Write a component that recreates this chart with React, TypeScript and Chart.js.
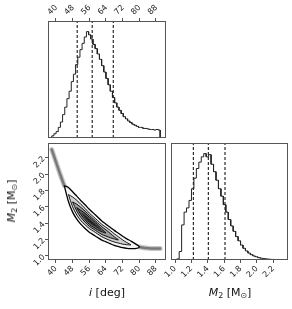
import React, { useEffect, useRef } from "react";
import { Chart, registerables } from "chart.js";
Chart.register(...registerables);

// ---- axis ranges & ticks ----
const I_MIN = 36.2;
const I_MAX = 92.8;
const M_MIN = 0.95;
const M_MAX = 2.38;
const H_MAX = 1.1;
const iTicks = [40, 48, 56, 64, 72, 80, 88];
const mTicks = [1.0, 1.2, 1.4, 1.6, 1.8, 2.0, 2.2];

// ---- 1D histogram of i [deg] (normalised counts) ----
const iBinStart = 38.0;
const iBinWidth = 1.04;
const iHist = [
  0.02, 0.04, 0.06, 0.1, 0.15, 0.22, 0.29, 0.37, 0.44, 0.53,
  0.6, 0.69, 0.76, 0.83, 0.89, 0.95, 1.0, 0.97, 0.93, 0.88,
  0.84, 0.79, 0.74, 0.68, 0.62, 0.56, 0.5, 0.44, 0.38, 0.33,
  0.29, 0.26, 0.23, 0.2, 0.18, 0.16, 0.145, 0.13, 0.12, 0.11,
  0.1, 0.1, 0.09, 0.09, 0.085, 0.08, 0.08, 0.075, 0.08, 0.075,
];
const iQuantiles = [50.2, 57.4, 67.5];

// ---- 1D histogram of M2 [Msun] ----
const mBinStart = 1.02;
const mBinWidth = 0.03;
const mHist = [
  0.01, 0.08, 0.33, 0.45, 0.49, 0.56, 0.67, 0.77, 0.86, 0.92,
  0.97, 1.0, 0.97, 0.99, 0.9, 0.83, 0.75, 0.67, 0.6, 0.52,
  0.45, 0.38, 0.32, 0.27, 0.22, 0.18, 0.14, 0.11, 0.085, 0.065,
  0.05, 0.038, 0.03, 0.022, 0.017, 0.013, 0.01, 0.008, 0.006, 0.005,
  0.004, 0.003, 0.002, 0.001,
];
const mQuantiles = [1.223, 1.406, 1.61];

// ---- 2D density: ridge of the banana and contour half-widths (M units) ----
const ridgeI = [38, 40, 42, 44, 46, 48, 50, 52, 54, 56, 58, 60, 62, 64, 66, 68, 70, 72, 74, 76, 78, 80, 82, 84, 86, 88, 90];
const ridgeM = [2.3, 2.15, 2.0, 1.86, 1.75, 1.66, 1.59, 1.53, 1.48, 1.43, 1.39, 1.35, 1.31, 1.28, 1.25, 1.22, 1.195, 1.17, 1.15, 1.135, 1.12, 1.11, 1.1, 1.095, 1.09, 1.09, 1.09];
const hwLevel1 = [0, 0, 0, 0, 0.085, 0.125, 0.14, 0.145, 0.145, 0.14, 0.133, 0.125, 0.117, 0.108, 0.1, 0.092, 0.082, 0.07, 0.058, 0.046, 0.03, 0, 0, 0, 0, 0, 0];
const hwLevel2 = [0, 0, 0, 0, 0, 0.06, 0.09, 0.1, 0.1, 0.095, 0.088, 0.082, 0.076, 0.07, 0.062, 0.05, 0.038, 0.026, 0.013, 0, 0, 0, 0, 0, 0, 0, 0];
const hwLevel3 = [0, 0, 0, 0, 0, 0, 0.042, 0.062, 0.068, 0.068, 0.062, 0.055, 0.048, 0.038, 0.027, 0.013, 0, 0, 0, 0, 0, 0, 0, 0, 0, 0, 0];
const hwLevel4 = [0, 0, 0, 0, 0, 0, 0, 0.026, 0.04, 0.044, 0.04, 0.03, 0.015, 0, 0, 0, 0, 0, 0, 0, 0, 0, 0, 0, 0, 0, 0];
const hwLevel5 = [0, 0, 0, 0, 0, 0, 0, 0, 0.016, 0.022, 0.018, 0.008, 0, 0, 0, 0, 0, 0, 0, 0, 0, 0, 0, 0, 0, 0, 0];
const tailLeft = [38, 44];
const tailRight = [78, 90];

// ---- helpers ----
function stairs(start: number, width: number, vals: number[]) {
  const pts: { x: number; y: number }[] = [{ x: start, y: 0 }];
  vals.forEach((v, k) => {
    pts.push({ x: start + k * width, y: v });
    pts.push({ x: start + (k + 1) * width, y: v });
  });
  pts.push({ x: start + vals.length * width, y: 0 });
  return pts;
}

function contour(hw: number[]) {
  const n = hw.length;
  let first = -1;
  let last = -1;
  hw.forEach((h, k) => {
    if (h > 0) {
      if (first < 0) first = k;
      last = k;
    }
  });
  const a = Math.max(0, first - 1);
  const b = Math.min(n - 1, last + 1);
  const pts: { x: number; y: number }[] = [];
  for (let k = a; k <= b; k++) pts.push({ x: ridgeI[k], y: ridgeM[k] + hw[k] });
  for (let k = b - 1; k > a; k--) pts.push({ x: ridgeI[k], y: ridgeM[k] - hw[k] });
  pts.push({ ...pts[0] });
  return pts;
}

function ridgePart(range: number[]) {
  const pts: { x: number; y: number }[] = [];
  ridgeI.forEach((x, k) => {
    if (x >= range[0] && x <= range[1]) pts.push({ x, y: ridgeM[k] });
  });
  return pts;
}

function vline(x: number, yMax: number) {
  return [
    { x, y: 0 },
    { x, y: yMax },
  ];
}

const tickFont = { family: "'DejaVu Sans', sans-serif", size: 8 };
const AXIS_COLOR = "#555";

function axis(opts: {
  position: string;
  min: number;
  max: number;
  ticks: number[];
  decimals: number;
  size: number;
}) {
  const horizontal = opts.position === "top" || opts.position === "bottom";
  return {
    type: "linear",
    position: opts.position,
    min: opts.min,
    max: opts.max,
    afterBuildTicks: (s: any) => {
      s.ticks = opts.ticks.map((v) => ({ value: v }));
    },
    afterFit: (s: any) => {
      if (horizontal) s.height = opts.size;
      else s.width = opts.size;
      s.paddingLeft = 0;
      s.paddingRight = 0;
      s.paddingTop = 0;
      s.paddingBottom = 0;
    },
    ticks: {
      display: true,
      minRotation: 45,
      maxRotation: 45,
      autoSkip: false,
      font: tickFont,
      color: "#222",
      padding: 1,
      callback: (v: any) => Number(v).toFixed(opts.decimals),
    },
    grid: {
      display: true,
      drawOnChartArea: false,
      drawTicks: true,
      tickLength: 3,
      color: AXIS_COLOR,
      lineWidth: 1,
    },
    border: { display: false },
  };
}

const hiddenY = (min: number, max: number) => ({
  type: "linear",
  display: false,
  min,
  max,
});

const framePlugin = {
  id: "frame",
  afterDraw(chart: any) {
    const { ctx, chartArea: a } = chart;
    ctx.save();
    ctx.strokeStyle = AXIS_COLOR;
    ctx.lineWidth = 1;
    ctx.strokeRect(
      Math.round(a.left) + 0.5,
      Math.round(a.top) + 0.5,
      Math.round(a.right - a.left) - 1,
      Math.round(a.bottom - a.top) - 1
    );
    ctx.restore();
  },
};

const common = {
  responsive: false,
  animation: false,
  devicePixelRatio: 1,
  events: [],
  elements: { point: { radius: 0, hoverRadius: 0 } },
  plugins: { legend: { display: false }, tooltip: { enabled: false } },
};

function histDatasets(pts: any[], quants: number[]) {
  return [
    {
      data: pts,
      showLine: true,
      borderColor: "#222",
      borderWidth: 1,
      pointRadius: 0,
      fill: false,
      tension: 0,
    },
    ...quants.map((q) => ({
      data: vline(q, H_MAX),
      showLine: true,
      borderColor: "#000",
      borderWidth: 1,
      borderDash: [3, 2],
      pointRadius: 0,
      fill: false,
    })),
  ];
}

export default function App() {
  const r1 = useRef<HTMLCanvasElement>(null);
  const r2 = useRef<HTMLCanvasElement>(null);
  const r3 = useRef<HTMLCanvasElement>(null);

  useEffect(() => {
    const charts: Chart[] = [];

    // top-left: histogram of i
    charts.push(
      new Chart(r1.current as HTMLCanvasElement, {
        type: "scatter",
        data: { datasets: histDatasets(stairs(iBinStart, iBinWidth, iHist), iQuantiles) as any },
        options: {
          ...common,
          layout: { padding: { left: 48, top: 1, right: 126, bottom: 171 } },
          scales: {
            x: axis({ position: "top", min: I_MIN, max: I_MAX, ticks: iTicks, decimals: 0, size: 20 }),
            y: hiddenY(0, H_MAX),
          },
        } as any,
        plugins: [framePlugin],
      })
    );

    // bottom-left: 2D density
    const levels = [
      { hw: hwLevel1, fill: "#f3f3f3", line: "#000", w: 1.3 },
      { hw: hwLevel2, fill: "#d0d0d0", line: "#000", w: 0.9 },
      { hw: hwLevel3, fill: "#9c9c9c", line: "#000", w: 0.9 },
      { hw: hwLevel4, fill: "#626262", line: "#000", w: 0.9 },
      { hw: hwLevel5, fill: "#222", line: "#222", w: 0 },
    ];
    const dens: any[] = [];
    [tailLeft, tailRight].forEach((rg) => {
      dens.push({
        data: ridgePart(rg),
        showLine: true,
        borderColor: "rgba(0,0,0,0.22)",
        borderWidth: 5,
        borderCapStyle: "round",
        tension: 0.3,
        pointRadius: 0,
        fill: false,
        order: 10,
      });
      dens.push({
        data: ridgePart(rg),
        showLine: true,
        borderColor: "rgba(0,0,0,0.4)",
        borderWidth: 2.5,
        borderCapStyle: "round",
        tension: 0.3,
        pointRadius: 0,
        fill: false,
        order: 9,
      });
    });
    levels.forEach((lv, idx) => {
      dens.push({
        data: contour(lv.hw),
        showLine: true,
        borderColor: lv.line,
        borderWidth: lv.w,
        backgroundColor: lv.fill,
        fill: "shape",
        tension: 0.3,
        pointRadius: 0,
        order: 8 - idx,
      });
    });
    charts.push(
      new Chart(r2.current as HTMLCanvasElement, {
        type: "scatter",
        data: { datasets: dens },
        options: {
          ...common,
          layout: { padding: { left: 8, top: 143, right: 126, bottom: 19 } },
          scales: {
            x: axis({ position: "bottom", min: I_MIN, max: I_MAX, ticks: iTicks, decimals: 0, size: 30 }),
            y: axis({ position: "left", min: M_MIN, max: M_MAX, ticks: mTicks, decimals: 1, size: 40 }),
          },
        } as any,
        plugins: [framePlugin],
      })
    );

    // bottom-right: histogram of M2
    charts.push(
      new Chart(r3.current as HTMLCanvasElement, {
        type: "scatter",
        data: { datasets: histDatasets(stairs(mBinStart, mBinWidth, mHist), mQuantiles) as any },
        options: {
          ...common,
          layout: { padding: { left: 171, top: 143, right: 4, bottom: 19 } },
          scales: {
            x: axis({ position: "bottom", min: M_MIN, max: M_MAX, ticks: mTicks, decimals: 1, size: 30 }),
            y: hiddenY(0, H_MAX),
          },
        } as any,
        plugins: [framePlugin],
      })
    );

    return () => charts.forEach((c) => c.destroy());
  }, []);

  const canvasStyle: React.CSSProperties = { position: "absolute", left: 0, top: 0 };
  const title = (x: number, y: number, rot = 0): React.CSSProperties => ({
    position: "absolute",
    left: x,
    top: y,
    transform: `translate(-50%, -50%) rotate(${rot}deg)`,
    whiteSpace: "nowrap",
    fontFamily: "'DejaVu Sans', sans-serif",
    fontSize: 11,
    color: "#111",
    lineHeight: "14px",
  });
  const sub: React.CSSProperties = { fontSize: "0.72em", verticalAlign: "-0.25em", lineHeight: 0 };

  return (
    <div
      style={{
        position: "fixed",
        left: 0,
        top: 0,
        width: 292,
        height: 309,
        background: "#fff",
        overflow: "hidden",
      }}
    >
      <canvas ref={r1} width={292} height={309} style={canvasStyle} />
      <canvas ref={r2} width={292} height={309} style={canvasStyle} />
      <canvas ref={r3} width={292} height={309} style={canvasStyle} />
      <div style={title(107, 293)}>
        <i>i</i> [deg]
      </div>
      <div style={title(230, 293)}>
        <i>M</i>
        <span style={sub}>2</span> [M<span style={sub}>⊙</span>]
      </div>
      <div style={title(12, 201, -90)}>
        <i>M</i>
        <span style={sub}>2</span> [M<span style={sub}>⊙</span>]
      </div>
    </div>
  );
}
